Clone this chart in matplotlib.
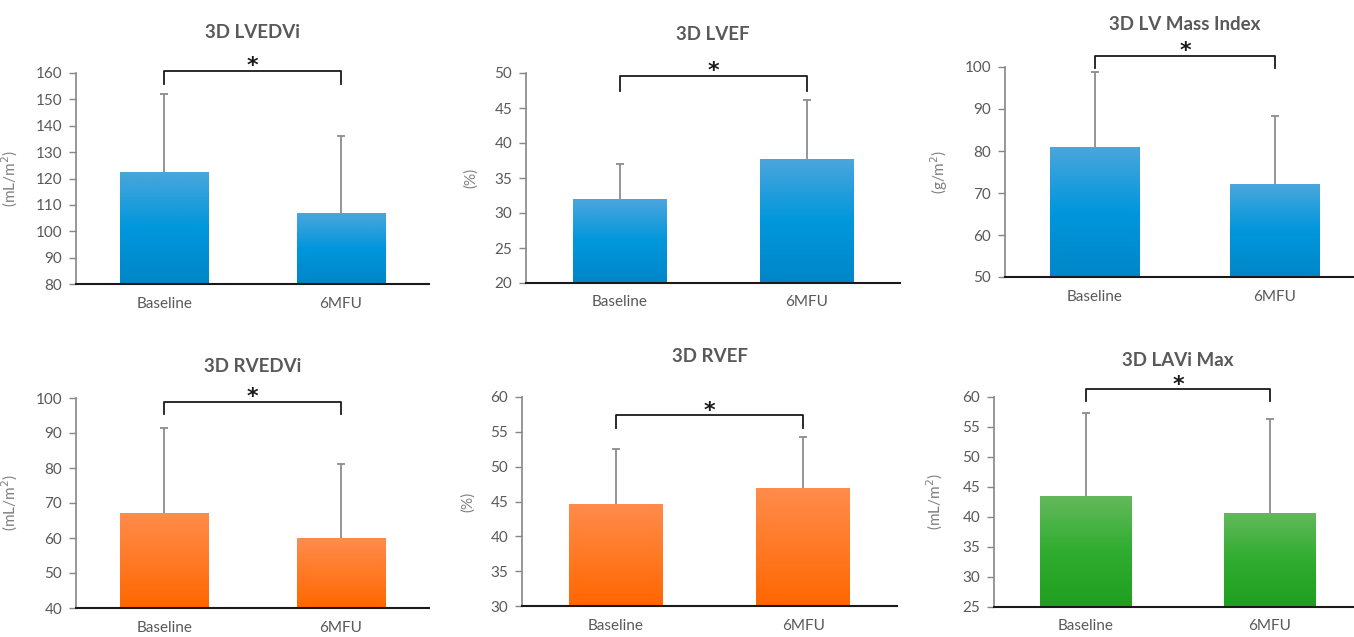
import numpy as np
import matplotlib
matplotlib.use("Agg")
from matplotlib import pyplot as plt
from matplotlib.colors import LinearSegmentedColormap

plt.rcParams['font.family'] = ['Lato', 'DejaVu Sans']

groups = ['Baseline', '6MFU']
titles = ['3D LVEDVi', '3D LVEF', '3D LV Mass Index',
          '3D RVEDVi', '3D RVEF', '3D LAVi Max']
units = ['(mL/m$^2$)', '(%)', '(g/m$^2$)', '(mL/m$^2$)', '(%)', '(mL/m$^2$)']

lvedvi = [122.6, 106.8]
lvedvi_sd = [29.4, 29.4]
lvef = [32.0, 37.7]
lvef_sd = [5.0, 8.4]
lvmi = [81.0, 72.1]
lvmi_sd = [17.7, 16.2]
rvedvi = [67.2, 59.9]
rvedvi_sd = [24.3, 21.3]
rvef = [44.7, 47.0]
rvef_sd = [7.8, 7.2]
lavi = [43.5, 40.7]
lavi_sd = [13.8, 15.7]

means = [lvedvi, lvef, lvmi, rvedvi, rvef, lavi]
sds = [lvedvi_sd, lvef_sd, lvmi_sd, rvedvi_sd, rvef_sd, lavi_sd]

ylims = [(80, 160), (20, 50), (50, 100), (40, 100), (30, 60), (25, 60)]
ysteps = [10, 5, 10, 10, 5, 5]

# layout in pixels: left, top, right, bottom of each axes; title y; ylabel offset
W, H = 1354, 637
boxes = [(76, 73, 429, 284), (526, 73, 900, 283), (1005, 67, 1365, 277),
         (76, 398, 429, 608), (522, 397, 897, 606), (994, 397, 1362, 607)]
title_y = [33, 35, 25, 367, 357, 360]
ylab_off = [56, 48, 55, 56, 47, 49]
# bracket (top, leg bottom) in data units
brackets = [(160.8, 155.8), (49.6, 47.4), (102.6, 99.8),
            (98.9, 95.4), (57.4, 55.5), (61.3, 59.3)]

blue = LinearSegmentedColormap.from_list('b', ['#0086c8', '#0097dc', '#4ba6dc'])
orange = LinearSegmentedColormap.from_list('o', ['#ff6600', '#ff7a26', '#ff8c4d'])
green = LinearSegmentedColormap.from_list('g', ['#1f9e1f', '#30ad30', '#64b95c'])
cmaps = [blue, blue, blue, orange, orange, green]

fig = plt.figure(figsize=(W / 100, H / 100), dpi=100)
grad = np.linspace(0, 1, 256).reshape(-1, 1)

for i in range(6):
    l, t, r, b = boxes[i]
    ax = fig.add_axes([l / W, 1 - b / H, (r - l) / W, (b - t) / H])
    x = np.arange(2)
    bars = ax.bar(x, means[i], width=0.5, bottom=0, color='none', zorder=2)
    lo, hi = ylims[i]
    for p in bars:
        x0 = p.get_x()
        im = ax.imshow(grad, cmap=cmaps[i], origin='lower', aspect='auto',
                       extent=[x0, x0 + p.get_width(), lo, p.get_height()], zorder=2)
        im.set_clip_path(p)
    tops = np.array(means[i]) + np.array(sds[i])
    ax.vlines(x, means[i], tops, color='#8c8c8c', lw=1.3, zorder=1)
    ax.plot(x, tops, ls='none', marker='_', ms=6, mew=1.3, color='#8c8c8c', zorder=1)
    ax.set_xlim(-0.5, 1.5)
    ax.set_ylim(lo, hi)
    ax.set_yticks(np.arange(lo, hi + 0.1, ysteps[i]))
    ax.set_xticks(x)
    ax.set_xticklabels(groups)
    ax.tick_params(axis='x', length=0, pad=9, labelsize=11, labelcolor='#595959')
    ax.tick_params(axis='y', length=5, width=1, color='#868686', pad=5,
                   labelsize=11, labelcolor='#595959')
    for s in ['top', 'right']:
        ax.spines[s].set_visible(False)
    ax.spines['left'].set_color('#868686')
    ax.spines['left'].set_linewidth(1.2)
    ax.spines['bottom'].set_color('#1a1a1a')
    ax.spines['bottom'].set_linewidth(1.5)
    ax.spines['bottom'].set_zorder(3)
    ax.set_ylabel(units[i], fontsize=11, color='#7f7f7f')
    ax.yaxis.set_label_coords(-ylab_off[i] / (r - l), 0.5)

    top, leg = brackets[i]
    ax.plot([0, 0, 1, 1], [leg, top, top, leg], color='#1a1a1a', lw=1.3,
            clip_on=False, zorder=4)
    ax.annotate('*', xy=(0.5, top), xytext=(0, -1), textcoords='offset points',
                ha='center', va='baseline', fontsize=16, fontweight='bold',
                family='DejaVu Sans', color='#1a1a1a', annotation_clip=False)

    fig.text((l + r) / 2 / W, 1 - title_y[i] / H, titles[i], ha='center', va='center',
             fontsize=13.5, fontweight='bold', color='#595959')

fig.savefig('out.png', dpi=100)
